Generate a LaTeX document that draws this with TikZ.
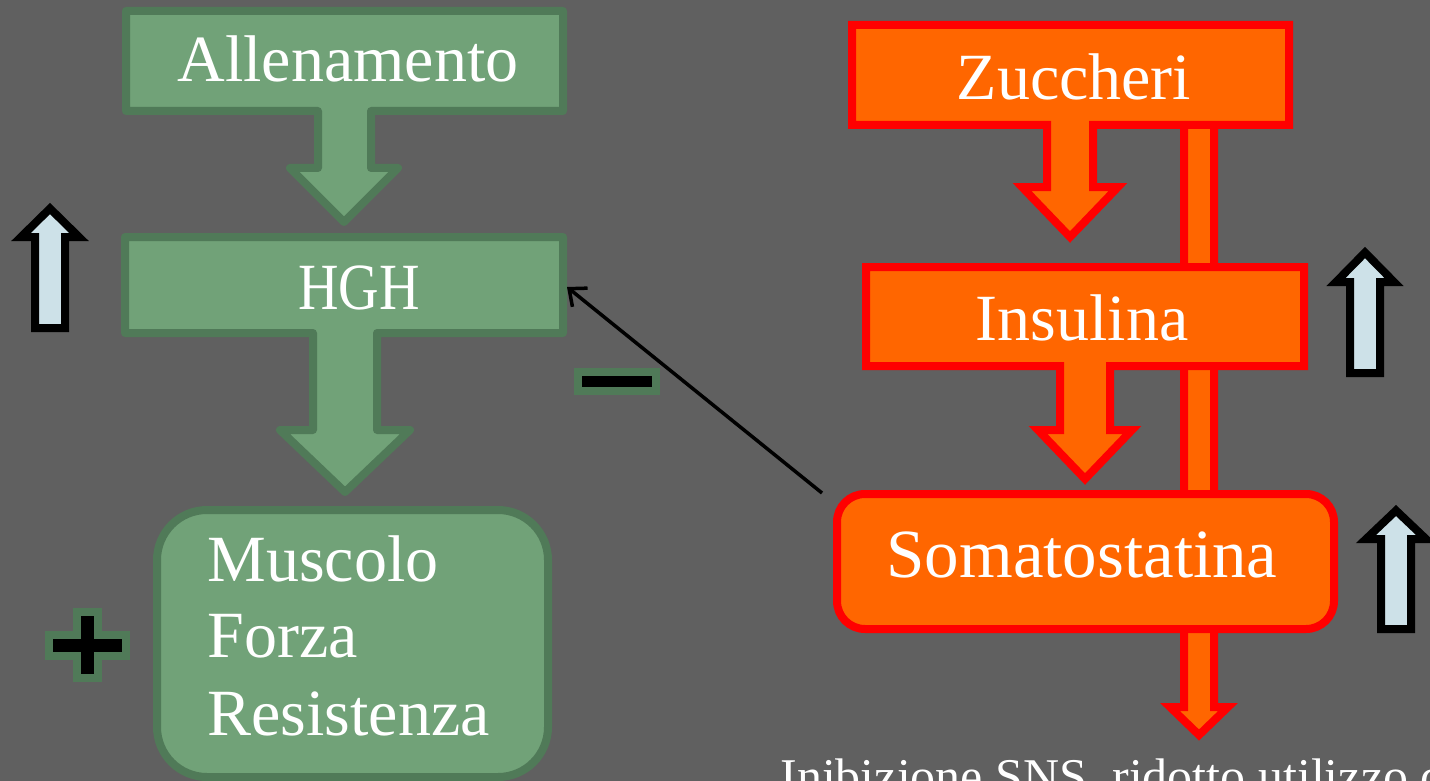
\documentclass[tikz,border=0pt]{standalone}
\usepackage{fontspec}
\setmainfont{Liberation Serif}
\usetikzlibrary{arrows.meta}
\definecolor{bg}{HTML}{606060}
\definecolor{gfill}{HTML}{71A278}
\definecolor{gline}{HTML}{507A58}
\definecolor{ofill}{HTML}{FF6600}
\definecolor{oline}{HTML}{FF0000}
\definecolor{bfill}{HTML}{CDE1E8}
\begin{document}
\begin{tikzpicture}[x=0.5pt,y=-0.5pt,
  gshape/.style={fill=gfill,draw=gline,line width=4pt,line join=round},
  oshape/.style={fill=ofill,draw=oline,line width=4pt,line join=miter},
  upar/.style={fill=bfill,draw=black,line width=4pt,line join=miter},
  signshape/.style={fill=black,draw=gline,line width=4pt,line join=miter},
  lbl/.style={text=white,font=\fontsize{33}{40}\selectfont,inner sep=0pt,anchor=base},
  lblw/.style={lbl,anchor=base west},
  conn/.style={draw=black,line width=1.75pt,-{Straight Barb[length=7pt,width=12pt,line width=1.75pt]}}]
\useasboundingbox (0,0) rectangle (1430,781);
\clip (0,0) rectangle (1430,781);
\fill[bg] (0,0) rectangle (1430,781);

% green callouts
\path[gshape] (126,11) -- (563,11) -- (563,111) -- (371,111) -- (371,168) -- (398,168)
  -- (344,222) -- (290,168) -- (318,168) -- (318,111) -- (126,111) -- cycle;
\path[gshape] (125,237) -- (563,237) -- (563,333) -- (377,333) -- (377,430) -- (410,430)
  -- (345,492) -- (280,430) -- (313,430) -- (313,333) -- (125,333) -- cycle;
\path[gshape,rounded corners=25pt] (157,510) rectangle (548,777);

% long orange arrow behind right boxes
\path[oshape] (1184,60) -- (1214,60) -- (1214,707) -- (1228,707) -- (1199,735)
  -- (1170,707) -- (1184,707) -- cycle;

% orange callouts
\path[oshape] (852,25) -- (1289,25) -- (1289,125) -- (1093,125) -- (1093,187) -- (1118,187)
  -- (1070,237) -- (1022,187) -- (1047,187) -- (1047,125) -- (852,125) -- cycle;
\path[oshape] (866,267) -- (1304,267) -- (1304,366) -- (1110,366) -- (1110,430) -- (1132,430)
  -- (1085,479) -- (1038,430) -- (1060,430) -- (1060,366) -- (866,366) -- cycle;
\path[oshape,rounded corners=14pt] (837,494) rectangle (1334,629);

% up arrows
\path[upar] (35,328) -- (35,237) -- (21,237) -- (50,208.5) -- (79,237) -- (65,237) -- (65,328) -- cycle;
\path[upar] (1350,373) -- (1350,282) -- (1336,282) -- (1365,252.5) -- (1394,282) -- (1380,282) -- (1380,373) -- cycle;
\path[upar] (1381,629) -- (1381,539) -- (1366,539) -- (1396,510.5) -- (1426,539) -- (1411,539) -- (1411,629) -- cycle;

% minus and plus
\path[signshape] (578,372) rectangle (655.5,390.5);
\path[signshape] (77,612) -- (98,612) -- (98,634.5) -- (126,634.5) -- (126,656) -- (98,656)
  -- (98,678) -- (77,678) -- (77,656) -- (49,656) -- (49,634.5) -- (77,634.5) -- cycle;

% texts
\node[lbl] (allen) at (348,82) {Allenamento};
\node[lbl,xscale=0.85] (hgh) at (359,309) {HGH};
\node[lblw] (musc) at (207,581) {Muscolo};
\node[lblw] (forza) at (207,657) {Forza};
\node[lblw] (resist) at (207,735) {Resistenza};
\node[lbl] (zucch) at (1074,100) {Zuccheri};
\node[lbl] (insul) at (1082,340) {Insulina};
\node[lbl,font=\fontsize{34.5}{40}\selectfont] (somat) at (1082,577) {Somatostatina};
\node[lblw,font=\fontsize{25}{30}\selectfont] (inib) at (780,793) {Inibizione SNS, ridotto utilizzo d};

% connector
\coordinate (somaNW) at (822,493);
\coordinate (hghE) at (567,287);
\draw[conn] (somaNW) -- (hghE);
\end{tikzpicture}
\end{document}
